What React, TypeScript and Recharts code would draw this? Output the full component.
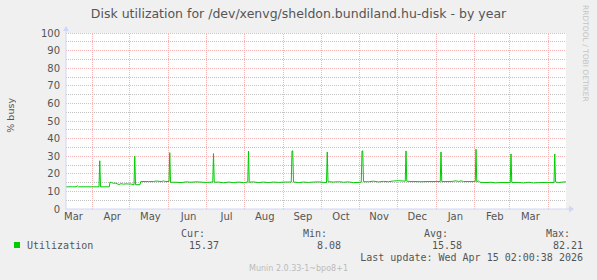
import { CartesianGrid, Line, LineChart, ReferenceDot, ReferenceLine, XAxis, YAxis } from 'recharts';

// days counted from Mar 11 2025 (left edge of the 400-day window)
const days = [
  0, 5, 8, 9, 10, 20, 26.4, 27, 27.6, 34.6,
  35.2, 36.5, 38, 39.5, 41, 42.5, 44, 46, 48, 50, 52, 54.4, 55, 55.6, 59.2,
  59.8, 66, 70, 72, 76, 78, 80, 82.4, 83, 83.6,
  88, 92, 96, 100, 104, 108, 112, 117.4, 118, 118.6,
  122, 126, 130, 134, 138, 142, 145.4, 146, 146.6,
  150, 154, 158, 162, 166, 170, 175, 180.2, 180.8, 181.4, 182,
  186, 190, 194, 198, 202, 208.4, 209, 209.6,
  214, 218, 222, 226, 230, 236.2, 236.8, 237.4, 238,
  242, 246, 250, 254, 258, 262, 266, 271.4, 272, 272.6,
  276, 280, 284, 288, 292, 296, 299.4, 300, 300.6,
  304, 308, 312, 314, 316, 318, 324, 327.4, 328, 328.6,
  330, 331, 336, 340, 344, 348, 352, 355.4, 356, 356.6,
  362, 366, 370, 374, 378, 384, 390.4, 391, 391.6, 394, 397, 400,
];

const busy = [
  12.6, 12.6, 12.6, 13.2, 12.6, 12.6, 12.6, 27.4, 12.6, 12.6,
  15.3, 15.0, 14.6, 14.7, 14.3, 13.9, 14.4, 14.1, 14.3, 14.2, 14.2, 13.8, 30.0, 13.8, 13.8,
  15.6, 15.6, 15.6, 15.9, 15.6, 15.9, 15.6, 15.6, 32.0, 15.2,
  15.2, 15.0, 15.4, 15.2, 15.4, 15.3, 15.1, 15.3, 31.5, 15.2,
  15.3, 14.9, 15.3, 15.0, 15.3, 15.0, 15.3, 32.9, 15.2,
  15.4, 15.0, 15.3, 15.0, 15.3, 15.1, 15.3, 15.3, 33.0, 33.0, 15.3,
  15.0, 15.3, 15.1, 15.3, 15.4, 15.0, 32.4, 15.5,
  15.3, 15.5, 15.2, 15.4, 15.0, 15.2, 33.0, 33.0, 15.5,
  15.5, 15.8, 15.4, 15.7, 15.5, 15.9, 16.1, 15.8, 33.0, 15.8,
  15.6, 15.6, 15.5, 15.6, 15.6, 15.6, 15.6, 32.4, 15.6,
  15.6, 15.6, 16.0, 15.6, 16.0, 15.6, 15.6, 15.6, 34.0, 15.5,
  16.0, 15.2, 15.0, 15.2, 14.8, 15.1, 15.0, 15.1, 31.3, 15.1,
  15.1, 14.8, 15.2, 14.8, 15.0, 15.1, 15.1, 31.3, 15.4, 15.0, 15.3, 15.4,
];

const monthStarts = [21, 51, 82, 112, 143, 174, 204, 235, 265, 296, 327, 355, 386];
const monthLabelDays = [6, 37, 67.5, 98, 128.5, 159, 189.5, 220, 250.5, 281, 311.5, 343, 371.5];
const monthLabels = ['Mar', 'Apr', 'May', 'Jun', 'Jul', 'Aug', 'Sep', 'Oct', 'Nov', 'Dec', 'Jan', 'Feb', 'Mar'];

const yTicks = [0, 10, 20, 30, 40, 50, 60, 70, 80, 90, 100];
const majorY = [10, 20, 30, 40, 50, 60, 70, 80, 90, 100];
const minorY = [5, 15, 25, 35, 45, 55, 65, 75, 85, 95];

const legendHeads = ['Cur:', 'Min:', 'Avg:', 'Max:'];
const legendValues = ['15.37', '8.08', '15.58', '82.21'];
const legendRight = [205, 327, 448, 570];
const valueRight = [219, 341, 462, 583];

const data = days.map((day, i) => ({ day, busy: busy[i] }));

const W = 597;
const H = 280;
const AXIS = '#cfd6f8';
const FONT = '#555555';
const GREEN = '#00cc00';
const MGRID = '#f4b4b4';
const sans = '"DejaVu Sans", sans-serif';
const mono = '"DejaVu Sans Mono", monospace';

const UpArrow = (props: any) => {
  const { cx, cy } = props;
  return (
    <g>
      <line x1={cx} y1={cy} x2={cx} y2={cy - 3} stroke={AXIS} />
      <polygon points={`${cx - 3},${cy - 2} ${cx + 3},${cy - 2} ${cx},${cy - 7}`} fill={AXIS} />
    </g>
  );
};

const RightArrow = (props: any) => {
  const { cx, cy } = props;
  return (
    <g>
      <line x1={cx} y1={cy} x2={cx + 4} y2={cy} stroke={AXIS} />
      <polygon points={`${cx + 3},${cy - 3.5} ${cx + 3},${cy + 3.5} ${cx + 8},${cy}`} fill={AXIS} />
    </g>
  );
};

export default function App() {
  return (
    <div
      style={{
        position: 'fixed',
        left: 0,
        top: 0,
        width: W,
        height: H,
        background: '#f0f0f0',
        overflow: 'hidden',
        fontFamily: sans,
      }}
    >
      <div
        style={{
          position: 'absolute',
          left: 0,
          top: 5,
          width: W,
          textAlign: 'center',
          fontSize: 12.5,
          lineHeight: '18px',
          color: FONT,
        }}
      >
        Disk utilization for /dev/xenvg/sheldon.bundiland.hu-disk - by year
      </div>

      <div
        style={{
          position: 'absolute',
          left: 0,
          top: 60,
          width: 20,
          height: 110,
          display: 'flex',
          alignItems: 'center',
          justifyContent: 'center',
        }}
      >
        <span style={{ writingMode: 'vertical-rl', transform: 'rotate(180deg)', fontSize: 9.5, color: FONT }}>
          % busy
        </span>
      </div>

      <div
        style={{
          position: 'absolute',
          left: 581,
          top: 5,
          writingMode: 'vertical-rl',
          fontSize: 7.5,
          color: '#c4c4c4',
          whiteSpace: 'nowrap',
        }}
      >
        RRDTOOL / TOBI OETIKER
      </div>

      <div style={{ position: 'absolute', left: 0, top: 0 }}>
        <LineChart width={W} height={H} data={data} margin={{ top: 33, right: 31, bottom: 51, left: 6 }}>
          <CartesianGrid fill="#ffffff" horizontal={false} vertical={false} stroke="none" />
          {minorY.map((v) => (
            <ReferenceLine key={`mi${v}`} y={v} stroke="#c0c0c0" strokeDasharray="1 1" shapeRendering="crispEdges" />
          ))}
          {majorY.map((v) => (
            <ReferenceLine key={`ma${v}`} y={v} stroke={MGRID} strokeDasharray="1 1" shapeRendering="crispEdges" />
          ))}
          {monthStarts.map((d) => (
            <ReferenceLine key={`m${d}`} x={d} stroke={MGRID} strokeDasharray="1 1" shapeRendering="crispEdges" />
          ))}
          <XAxis
            dataKey="day"
            type="number"
            domain={[0, 400]}
            ticks={monthLabelDays}
            interval={0}
            tickFormatter={(v: number) => monthLabels[monthLabelDays.indexOf(v)] ?? ''}
            tickLine={false}
            tickSize={0}
            tickMargin={4}
            axisLine={{ stroke: AXIS }}
            height={20}
            tick={{ fill: FONT, fontSize: 10, fontFamily: sans }}
          />
          <YAxis
            type="number"
            domain={[0, 100]}
            ticks={yTicks}
            interval={0}
            tickLine={false}
            tickSize={0}
            tickMargin={6}
            axisLine={{ stroke: AXIS }}
            width={60}
            tick={{ fill: FONT, fontSize: 10, fontFamily: sans }}
          />
          <Line
            type="linear"
            dataKey="busy"
            stroke={GREEN}
            strokeWidth={1}
            dot={false}
            isAnimationActive={false}
          />
          <ReferenceDot x={0} y={100} r={0} shape={UpArrow} />
          <ReferenceDot x={400} y={0} r={0} shape={RightArrow} />
        </LineChart>
      </div>

      <div style={{ position: 'absolute', left: 14, top: 242, width: 6, height: 6, background: GREEN }} />
      <div
        style={{
          position: 'absolute',
          left: 27,
          top: 239.5,
          fontFamily: mono,
          fontSize: 10,
          lineHeight: '12px',
          color: FONT,
        }}
      >
        Utilization
      </div>
      {legendHeads.map((h, i) => (
        <div
          key={h}
          style={{
            position: 'absolute',
            right: W - legendRight[i],
            top: 227.5,
            fontFamily: mono,
            fontSize: 10,
            lineHeight: '12px',
            color: FONT,
            whiteSpace: 'pre',
          }}
        >
          {h}
        </div>
      ))}
      {legendValues.map((v, i) => (
        <div
          key={`v${i}`}
          style={{
            position: 'absolute',
            right: W - valueRight[i],
            top: 239.5,
            fontFamily: mono,
            fontSize: 10,
            lineHeight: '12px',
            color: FONT,
            whiteSpace: 'pre',
          }}
        >
          {v}
        </div>
      ))}
      <div
        style={{
          position: 'absolute',
          right: W - 583,
          top: 251.5,
          fontFamily: mono,
          fontSize: 10,
          lineHeight: '12px',
          color: FONT,
          whiteSpace: 'pre',
        }}
      >
        Last update: Wed Apr 15 02:00:38 2026
      </div>
      <div
        style={{
          position: 'absolute',
          left: 0,
          top: 263,
          width: W,
          textAlign: 'center',
          fontSize: 8,
          lineHeight: '12px',
          color: '#bbbbbb',
        }}
      >
        Munin 2.0.33-1~bpo8+1
      </div>
    </div>
  );
}
